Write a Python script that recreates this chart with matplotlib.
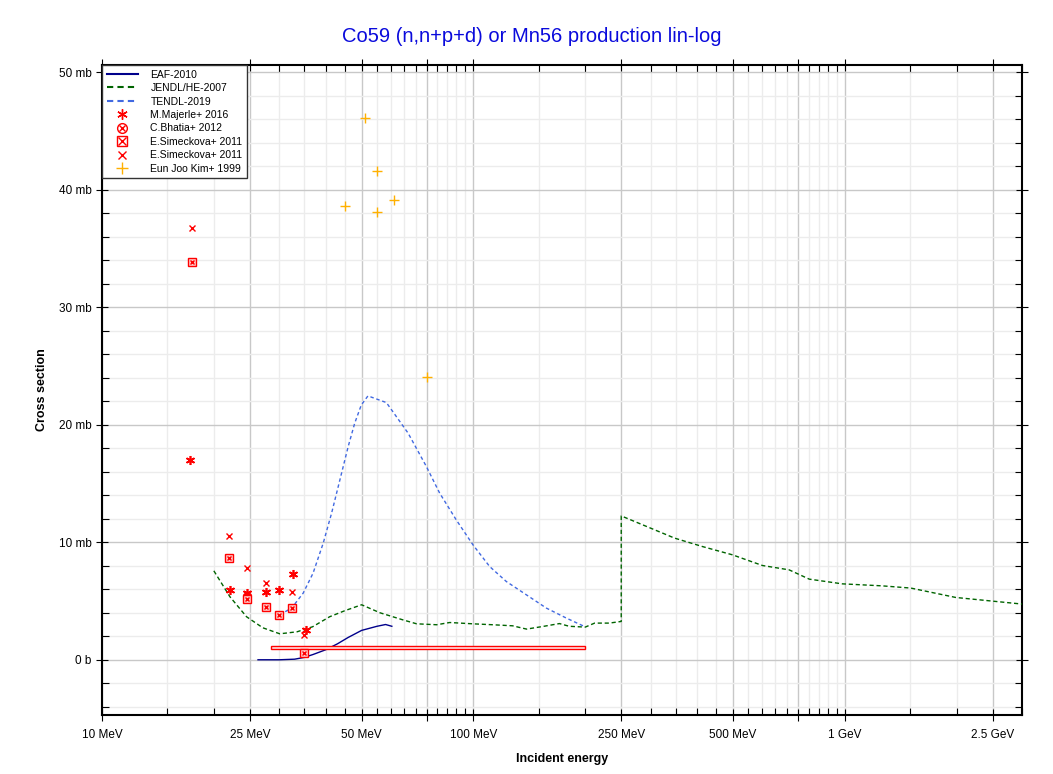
import matplotlib
matplotlib.use("Agg")
import matplotlib.pyplot as plt
from matplotlib.lines import Line2D
from matplotlib.patches import Rectangle
from matplotlib.ticker import FixedLocator, FuncFormatter, MultipleLocator, NullFormatter

plt.rcParams['font.family'] = ['Liberation Sans', 'DejaVu Sans']

# ---------------- data ----------------
eaf_E = [26.3, 30.0, 33.0, 35.0, 37.0, 40.0, 43.0, 46.0, 50.0, 55.0, 58.0, 60.3]
eaf_xs = [0.0, 0.0, 0.05, 0.2, 0.45, 0.85, 1.35, 1.9, 2.5, 2.85, 3.0, 2.85]

jendl_E = [20.0, 22.1, 24.5, 27.1, 30.1, 33.5, 36.9, 41.0, 45.0, 50.0, 56.0, 64.5,
           70.3, 79.6, 86.3, 99.5, 112.7, 127.5, 139.0, 153.5, 170.5, 181.0, 200.0,
           212.0, 232.0, 250.0, 250.0, 348.0, 414.0, 498.0, 600.0, 708.0, 802.0,
           984.0, 1259.0, 1506.0, 1990.0, 3000.0]
jendl_xs = [7.57, 5.36, 3.66, 2.72, 2.21, 2.38, 2.81, 3.66, 4.17, 4.68, 4.0, 3.4,
            3.06, 2.98, 3.17, 3.06, 2.98, 2.89, 2.61, 2.83, 3.08, 2.85, 2.78,
            3.12, 3.12, 3.26, 12.24, 10.35, 9.63, 8.93, 8.02, 7.65, 6.86,
            6.46, 6.29, 6.1, 5.3, 4.74]

tendl_E = [30.1, 32.4, 34.8, 37.0, 39.4, 41.5, 43.7, 46.0, 47.9, 49.9, 52.0, 58.3,
           66.7, 74.7, 81.1, 89.9, 99.7, 110.6, 122.6, 138.8, 157.1, 177.8, 199.1]
tendl_xs = [3.83, 4.40, 5.67, 7.37, 9.92, 12.47, 15.31, 18.14, 20.13, 21.68, 22.45, 21.88,
            19.28, 16.44, 14.18, 11.9, 9.78, 7.93, 6.66, 5.53, 4.40, 3.55, 2.83]

majerle_E = [17.2, 22.1, 24.5, 27.6, 29.9, 32.6, 35.5]
majerle_xs = [17.0, 5.95, 5.65, 5.75, 5.9, 7.3, 2.55]

bhatia_E = [24.5]
bhatia_xs = [5.45]

# wide energy-bin measurement (drawn as a box)
bin_E_low = [28.5]
bin_E_high = [200.0]
bin_xs = [1.05]
bin_dxs = [0.15]

sim1_E = [17.5, 22.0, 24.5, 27.6, 30.0, 32.5, 35.0]
sim1_xs = [33.8, 8.65, 5.15, 4.5, 3.8, 4.4, 0.6]

sim2_E = [17.5, 22.0, 24.5, 27.6, 32.5, 35.0]
sim2_xs = [36.7, 10.55, 7.85, 6.55, 5.8, 2.15]

kim_E = [45.0, 51.1, 55.0, 55.0, 61.1, 75.0]
kim_xs = [38.6, 46.05, 41.6, 38.1, 39.1, 24.1]

x_major = [10, 25, 50, 75, 100, 250, 500, 750, 1000, 2500]
x_labels = {10: '10 MeV', 25: '25 MeV', 50: '50 MeV', 100: '100 MeV', 250: '250 MeV',
            500: '500 MeV', 1000: '1 GeV', 2500: '2.5 GeV'}

# ---------------- figure ----------------
fig = plt.figure(figsize=(10.53, 7.74), dpi=100)
ax = fig.add_axes([0.0969, 0.0762, 0.8737, 0.8398])

red = '#ff0000'
ax.plot(eaf_E, eaf_xs, color='#00008b', lw=1.0, label='EAF-2010', zorder=3)
ax.plot(jendl_E, jendl_xs, color='#006400', lw=1.0, ls=(0, (3, 2)), label='JENDL/HE-2007', zorder=3)
ax.plot(tendl_E, tendl_xs, color='#4169e1', lw=1.0, ls=(0, (2.5, 2)), label='TENDL-2019', zorder=3)

# wide bin box
for lo, hi, v, dv in zip(bin_E_low, bin_E_high, bin_xs, bin_dxs):
    ax.add_patch(Rectangle((lo, v - dv), hi - lo, 2 * dv, facecolor='#ffe8e8',
                           edgecolor=red, lw=1.0, zorder=4))

ms = 5.5
ast = (6, 2, 0)
ax.plot(majerle_E, majerle_xs, ls='none', marker=ast, ms=ms + 1, mec=red, mew=1.2, color=red, zorder=5)
ax.plot(bhatia_E, bhatia_xs, ls='none', marker='o', ms=ms, mfc='none', mec=red, mew=1.0, zorder=5)
ax.plot(bhatia_E, bhatia_xs, ls='none', marker='x', ms=ms * 0.6, mec=red, mew=1.0, zorder=5)
ax.plot(sim1_E, sim1_xs, ls='none', marker='s', ms=ms, mfc='#ffcccc', mec=red, mew=1.0, zorder=5)
ax.plot(sim1_E, sim1_xs, ls='none', marker='x', ms=ms * 0.6, mec=red, mew=1.0, zorder=5)
ax.plot(sim2_E, sim2_xs, ls='none', marker='x', ms=ms - 0.5, mec=red, mew=1.0, zorder=5)
ax.plot(kim_E, kim_xs, ls='none', marker='+', ms=ms + 1.5, mec='#ffb000', mew=1.0, zorder=5)

# ---------------- axes ----------------
ax.set_xscale('log')
ax.set_xlim(10, 3000)
ax.set_ylim(-4.7, 50.6)

ax.xaxis.set_major_locator(FixedLocator(x_major))
ax.xaxis.set_major_formatter(FuncFormatter(lambda v, p: x_labels.get(int(round(v)), '')))
minors = [v for v in range(15, 100, 5)] + [v for v in range(150, 1000, 50)] + [1500, 2000, 3000]
minors = [m for m in minors if m not in x_major]
ax.xaxis.set_minor_locator(FixedLocator(minors))
ax.xaxis.set_minor_formatter(NullFormatter())

ax.yaxis.set_major_locator(MultipleLocator(10))
ax.yaxis.set_minor_locator(MultipleLocator(2))
ax.yaxis.set_major_formatter(FuncFormatter(lambda v, p: '0 b' if abs(v) < 1e-9 else f'{v:g} mb'))

ax.grid(True, which='major', color='#c8c8c8', lw=1.0, zorder=0)
ax.grid(True, which='minor', color='#ececec', lw=1.0, zorder=0)
ax.set_axisbelow(True)

ax.tick_params(which='major', direction='inout', length=8, width=0.8, labelsize=8.5,
               top=True, right=True, color='black')
ax.tick_params(which='minor', direction='in', length=5, width=0.8, top=True, right=True)
ax.tick_params(axis='x', which='major', pad=6)
for s in ax.spines.values():
    s.set_linewidth(1.5)
    s.set_color('black')

ax.set_xlabel('Incident energy', fontsize=9, fontweight='bold', labelpad=9)
ax.set_ylabel('Cross section', fontsize=9, fontweight='bold', labelpad=8)
fig.suptitle('Co59 (n,n+p+d) or Mn56 production lin-log', color='#0a0adc', fontsize=14.5,
             x=0.505, y=0.953, va='center')

# ---------------- legend ----------------
h_eaf = Line2D([], [], color='#00008b', lw=1.5)
h_jendl = Line2D([], [], color='#006400', lw=1.5, ls=(0, (3, 2)))
h_tendl = Line2D([], [], color='#4169e1', lw=1.5, ls=(0, (3, 2)))
h_maj = Line2D([], [], ls='none', marker=ast, ms=7.5, mec=red, mew=1.0)
h_bh1 = Line2D([], [], ls='none', marker='o', ms=7, mfc='none', mec=red, mew=1.0)
h_bh2 = Line2D([], [], ls='none', marker='x', ms=4.5, mec=red, mew=1.0)
h_s1 = Line2D([], [], ls='none', marker='s', ms=7, mfc='none', mec=red, mew=1.0)
h_s2 = Line2D([], [], ls='none', marker='x', ms=6, mec=red, mew=1.0)
h_x = Line2D([], [], ls='none', marker='x', ms=6, mec=red, mew=1.0)
h_kim = Line2D([], [], ls='none', marker='+', ms=9, mec='#ffb000', mew=1.0)
leg = ax.legend([h_eaf, h_jendl, h_tendl, h_maj, (h_bh1, h_bh2), (h_s1, h_s2), h_x, h_kim],
                ['EAF-2010', 'JENDL/HE-2007', 'TENDL-2019', 'M.Majerle+ 2016', 'C.Bhatia+ 2012',
                 'E.Simeckova+ 2011', 'E.Simeckova+ 2011', 'Eun Joo Kim+ 1999'],
                loc='upper left', bbox_to_anchor=(0, 1), borderaxespad=0, fontsize=7.5,
                handlelength=3.0, labelspacing=0.33, fancybox=False, framealpha=1,
                edgecolor='#333333', borderpad=0.45, handletextpad=1.2)
leg.get_frame().set_linewidth(1.0)

fig.savefig('out.png', dpi=100)
